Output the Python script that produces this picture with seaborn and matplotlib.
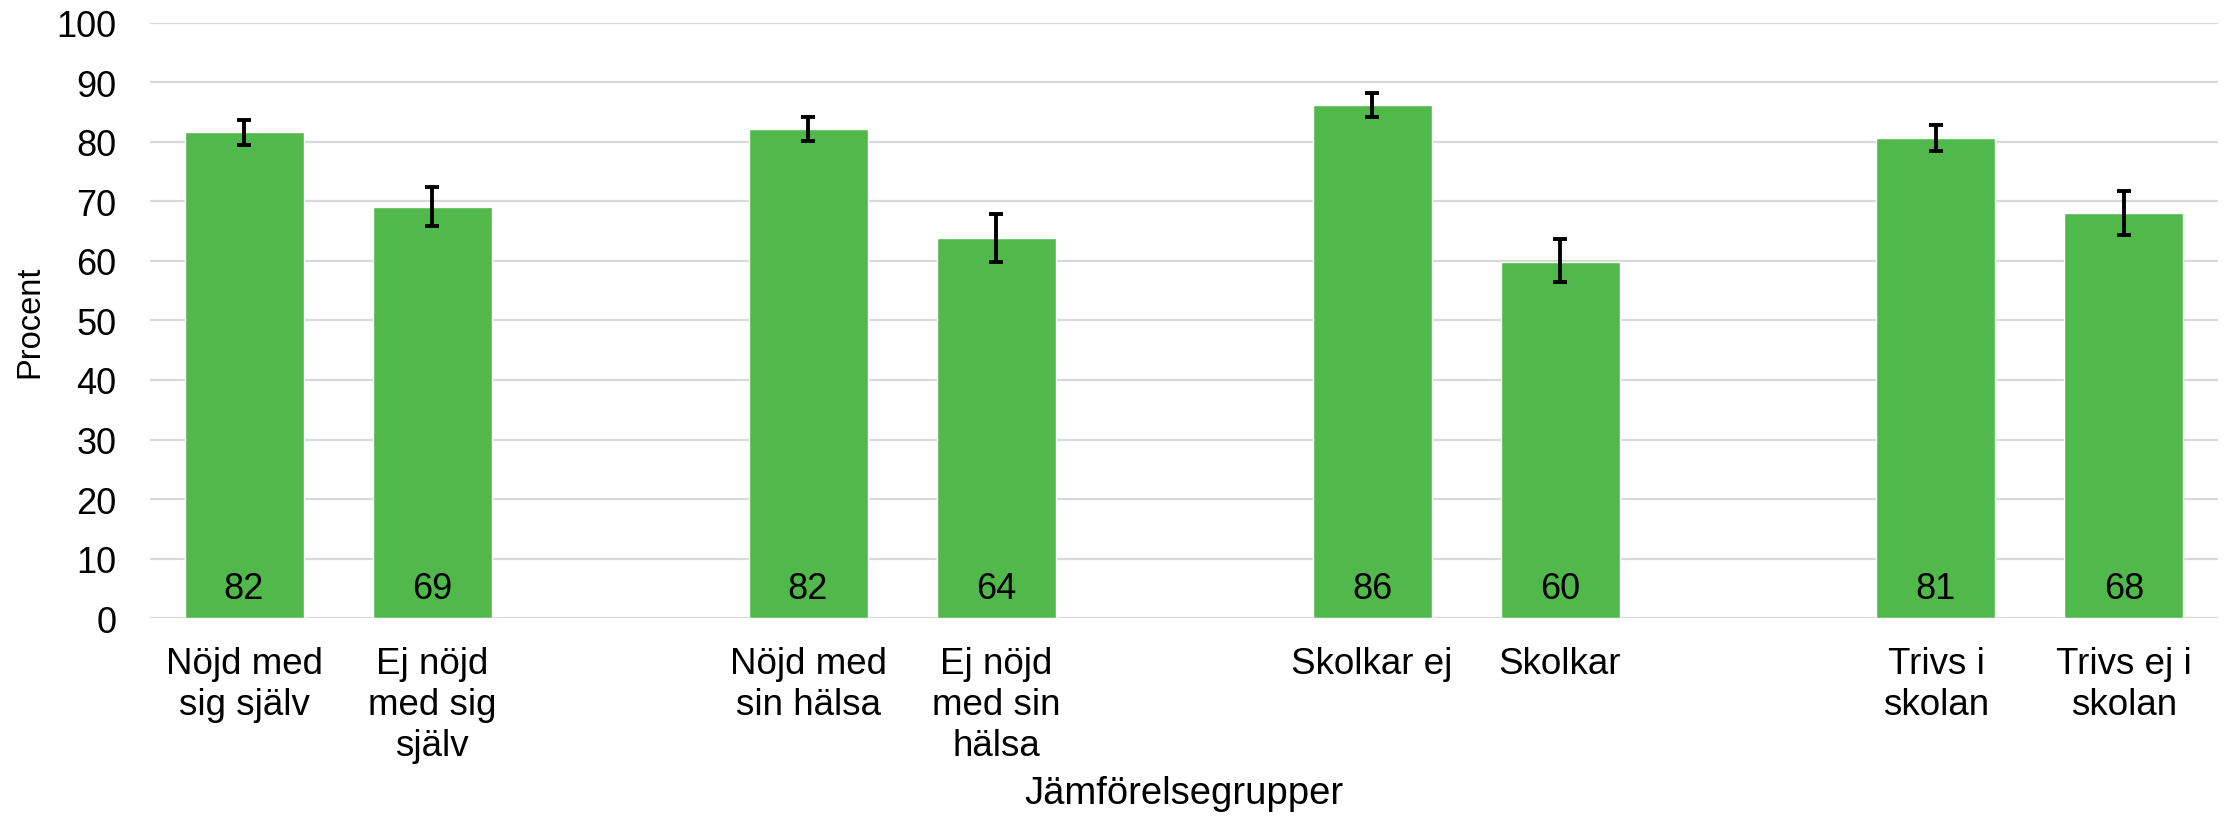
import numpy as np
import pandas as pd
import matplotlib
matplotlib.use("Agg")
import matplotlib.pyplot as plt
import seaborn as sns

# --- data ---
groups = ["Nöjd med\nsig själv", "Ej nöjd\nmed sig\nsjälv",
          "Nöjd med\nsin hälsa", "Ej nöjd\nmed sin\nhälsa",
          "Skolkar ej", "Skolkar",
          "Trivs i\nskolan", "Trivs ej i\nskolan"]
procent = [81.6, 69.1, 82.1, 63.9, 86.2, 59.9, 80.6, 68.1]
ci_low = [79.5, 65.9, 80.1, 59.9, 84.1, 56.4, 78.5, 64.3]
ci_high = [83.7, 72.4, 84.1, 67.8, 88.2, 63.6, 82.9, 71.8]

# empty slots between the pairs
order = [groups[0], groups[1], " ",
         groups[2], groups[3], "  ",
         groups[4], groups[5], "   ",
         groups[6], groups[7]]

df = pd.DataFrame({"grupp": groups, "procent": procent,
                   "lo": ci_low, "hi": ci_high})

sns.set_theme(style="white")
plt.rcParams["font.family"] = ["Liberation Sans", "DejaVu Sans"]
plt.rcParams["text.color"] = "black"
plt.rcParams["axes.labelcolor"] = "black"
plt.rcParams["xtick.color"] = "black"
plt.rcParams["ytick.color"] = "black"

green = "#51B84B"

fig = plt.figure(figsize=(22.26, 8.2), dpi=100)
ax = fig.add_axes([0.0674, 0.245, 0.929, 0.726])

sns.barplot(data=df, x="grupp", y="procent", order=order, color=green,
            saturation=1, width=0.633, errorbar=None, ax=ax, zorder=2)

# error bars and value labels on each bar
pos = np.array([order.index(g) for g in df["grupp"]])
yerr = np.vstack([df["procent"] - df["lo"], df["hi"] - df["procent"]])
ax.errorbar(pos, df["procent"], yerr=yerr, fmt="none", ecolor="black",
            elinewidth=2.8, capsize=4.8, capthick=2.8, zorder=3)
for x, v in zip(pos, df["procent"]):
    ax.text(x, 3.4, f"{v:.0f}", ha="center", va="baseline",
            fontsize=26, color="black", zorder=4)

ax.set_xlim(-0.5, len(order) - 0.5)
ax.set_ylim(0, 100)
ax.set_yticks(range(0, 101, 10))
ax.yaxis.grid(True, color="#d9d9d9", linewidth=1.6, zorder=0)
ax.set_axisbelow(True)
for s in ax.spines.values():
    s.set_visible(False)

ax.tick_params(axis="y", length=0, pad=24, labelsize=26)
ax.tick_params(axis="x", length=0, pad=20, labelsize=26.5)
for lab in ax.get_xticklabels():
    lab.set_linespacing(1.22)

ax.set_ylabel("Procent", fontsize=23.5, labelpad=8)
ax.set_xlabel("Jämförelsegrupper", fontsize=27.5, labelpad=9)

fig.savefig("out.png", dpi=100)
